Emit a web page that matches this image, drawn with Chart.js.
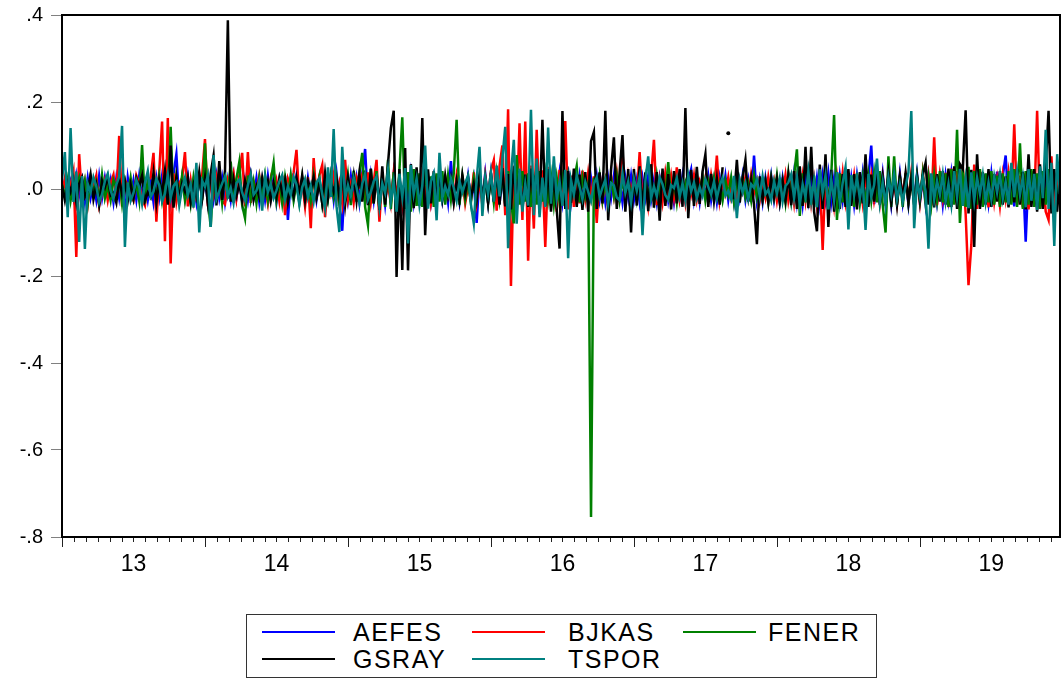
<!DOCTYPE html>
<html>
<head>
<meta charset="utf-8">
<script src="https://cdn.jsdelivr.net/npm/chart.js@4.4.1/dist/chart.umd.min.js"></script>
<style>
  html, body { margin: 0; padding: 0; background: #fff; }
  #wrap { position: relative; width: 1064px; height: 682px; }
  #legend { position: absolute; left: 246px; top: 614px; width: 631px; height: 64px;
            border: 1px solid #333; box-sizing: border-box; background: #fff; }
  .item { position: absolute; height: 28px; font-family: "Liberation Sans", Arial, sans-serif;
          font-size: 25px; letter-spacing: 1.5px; color: #000; line-height: 28px; white-space: nowrap; }
  .swatch { position: absolute; top: 13px; width: 73px; height: 2px; }
  .lbl { position: absolute; top: 0; }
</style>
</head>
<body>
<div id="wrap">
  <canvas id="c" width="1064" height="682"></canvas>
  <div id="legend"></div>
</div>
<script>
// ---- data (returns, roughly weekly samples) ----
const firstYear = 2013;
const obsPerYear = 50;
const seriesNames = ['AEFES', 'BJKAS', 'FENER', 'GSRAY', 'TSPOR'];
const seriesColors = ['#0000FF', '#FF0000', '#008000', '#000000', '#008080'];
const xTickLabels = ['13', '14', '15', '16', '17', '18', '19'];
const yTickValues = [-0.8, -0.6, -0.4, -0.2, 0, 0.2, 0.4];
const yTickLabels = ['-.8', '-.6', '-.4', '-.2', '.0', '.2', '.4'];

const aefes = [
-.01,.02,-.025,.015,-.02,.03,-.015,.02,-.03,.025,-.02,.015,-.025,.03,-.02,.025,-.015,.02,-.03,.025,-.02,.03,-.07,.025,-.02,
.02,-.025,.03,-.02,.015,-.025,.02,-.03,.025,-.02,.03,-.025,.02,-.03,.035,.08,-.03,.025,-.02,.03,-.025,.02,-.03,.025,-.02,
.025,-.03,.02,-.025,.03,-.02,.025,-.03,.02,-.025,.03,-.02,.025,-.03,.02,-.025,.03,-.02,.025,-.03,.02,-.025,.03,-.02,.025,
-.03,.02,-.025,.03,-.071,.025,-.02,.03,-.025,.02,-.03,.025,-.02,.03,-.025,.02,-.03,.025,-.02,.03,-.025,.035,-.03,-.096,.03,
-.025,.03,-.02,.025,-.03,.035,.092,-.035,.03,-.025,.035,-.03,.025,-.035,.03,-.025,.035,-.03,.025,-.035,.03,-.025,.035,-.03,.025,
-.02,.03,-.025,.02,-.03,.025,-.02,.03,-.025,.02,-.03,.064,-.025,.02,-.03,.025,-.02,.03,-.025,.02,-.078,.03,-.025,.035,-.03,
.035,-.03,.04,-.035,.03,-.04,.035,-.03,.04,-.035,.03,-.04,.035,-.03,.04,-.035,.03,-.04,.035,-.03,.04,-.035,.03,-.025,.035,
-.03,.025,.041,-.03,.025,-.02,.03,-.025,.02,-.03,.025,-.02,.03,-.025,.02,-.03,.025,-.02,.03,-.025,.02,-.03,.025,-.02,.03,
-.025,.02,-.03,.025,-.02,.03,-.025,.02,-.03,.025,-.02,.03,-.025,.02,-.03,.025,-.02,.03,-.025,.02,.045,-.025,.02,-.03,.025,
-.02,.03,-.025,.02,-.03,.025,-.02,.03,-.025,.02,-.03,.025,-.02,.03,-.025,.02,-.03,.077,-.025,.02,-.03,.025,-.02,.03,-.025,
.02,-.03,.025,-.02,.03,-.025,.035,-.03,.025,-.035,.03,-.025,.035,-.03,.025,-.035,.03,-.025,.035,-.03,.025,-.035,.03,-.025,.035,
-.03,.025,-.035,.03,-.025,.035,-.03,.025,.1,-.035,.03,-.025,.035,-.03,.025,-.035,.03,-.025,.035,-.03,.025,-.035,.03,-.025,.035,
-.03,.025,-.035,.03,-.025,.035,-.03,.025,-.035,.03,-.025,.035,-.03,.04,-.035,.03,-.04,.035,-.03,.04,-.035,.03,-.04,.035,-.03,
.035,-.03,.04,-.035,.03,.077,-.035,.03,-.04,.035,-.03,.04,-.121,.035,-.03,.04,-.035,.03,-.04,.035,-.03,.04,-.035,.03,-.025
];

const bjkas = [
-.014,.024,-.031,.009,.04,-.156,.08,-.021,.016,-.035,.027,.004,.031,-.038,-.011,.019,-.026,.013,.033,-.022,.122,-.04,.021,.008,-.017,
-.027,.031,.012,-.024,-.038,.018,.027,.083,-.075,.04,.155,-.12,.163,-.171,.036,-.029,.014,.024,.085,-.04,.019,-.033,-.009,.026,.031,
.115,-.04,.022,-.013,.031,.006,-.028,-.035,.024,.011,.037,-.021,.029,.083,-.04,.085,-.032,.017,-.006,.029,-.024,.009,-.033,.021,-.014,
.019,-.027,.031,-.06,.024,.006,.038,.09,-.031,.016,-.04,.027,-.09,.071,-.022,.031,.055,-.065,.024,-.009,.032,-.026,.013,-.033,.067,
-.024,.012,-.031,.027,.008,.033,-.026,.038,-.031,.017,.067,-.075,.031,-.022,.011,-.033,.038,-.016,.029,-.037,.021,.007,.036,-.026,.014,
-.027,.031,-.012,.024,-.033,.009,-.021,.032,.004,.027,-.014,.018,-.028,.031,-.011,.024,-.033,.006,-.026,.038,-.031,.021,-.037,.031,-.019,
.042,.066,-.05,.052,.1,-.06,.183,-.223,.054,-.041,.151,-.071,.155,-.165,.054,-.091,.136,-.056,.043,-.133,.051,-.039,.036,-.052,.044,
-.038,.156,-.047,.031,-.041,.026,-.033,.042,-.021,.036,-.018,.029,-.078,.036,-.027,.017,-.038,.031,-.016,.037,-.029,.087,-.036,.029,-.014,
.031,-.022,.085,-.031,.018,-.038,.029,.113,-.037,.021,-.029,.036,-.013,.031,-.019,.05,-.024,.013,-.032,.024,-.011,.031,-.024,.016,-.009,
.026,-.017,.032,-.008,.077,-.026,.017,-.011,.027,-.019,.009,-.027,.021,-.006,.027,-.019,.033,-.009,.018,-.027,.011,-.02,.028,-.012,.019,
-.027,.018,-.011,.032,-.026,.016,-.033,.027,-.014,.032,-.026,.037,-.031,.022,-.038,.031,-.14,.036,-.029,.021,-.038,.031,-.022,.037,-.029,
.024,-.013,.032,-.026,.016,-.033,.027,-.014,.031,-.026,.013,-.033,.026,-.038,.031,-.022,.016,-.033,.027,-.013,.032,-.026,.037,-.031,.022,
-.031,.037,-.022,.031,-.038,.119,-.037,.031,-.021,.037,-.042,.047,-.033,.041,-.047,.052,-.057,-.221,-.128,.056,-.046,.041,-.034,.029,-.042,
.037,-.029,.022,-.038,.031,-.022,.037,-.029,.149,-.036,.031,-.042,.036,-.047,.041,-.034,.18,-.046,.041,-.052,-.071,.075,-.046,.039,-.033
];

const fener = [
.011,-.016,.022,-.027,.014,.006,.026,-.018,.019,-.033,.027,-.009,.016,-.028,.032,-.021,.008,-.026,.021,.004,.027,-.033,.019,-.012,.026,
-.021,.014,-.027,.101,-.033,.019,-.012,.027,-.021,.031,-.026,.017,-.032,.143,-.038,.026,-.017,.031,-.026,.019,-.033,.027,-.014,.031,-.026,
.105,-.024,-.087,.031,-.017,.027,-.032,.037,-.022,.063,-.031,.024,.062,-.037,-.067,.031,-.024,.017,-.033,.026,-.017,.031,-.026,.019,.06,
-.026,.019,-.032,.027,-.017,.031,-.026,.014,-.032,.026,-.019,.012,-.027,.031,-.017,.026,-.033,.019,-.024,.031,-.017,.027,-.033,.036,-.024,
.031,-.037,.042,-.029,.036,.083,-.041,-.083,.046,-.033,.041,-.047,.033,-.041,.067,-.046,.039,-.052,.044,.165,-.046,.039,-.052,.046,-.039,
.036,-.041,.046,-.033,.029,-.041,.036,-.029,.041,-.036,.031,-.024,.036,.159,-.036,.029,-.024,.018,-.031,.026,-.017,.031,-.026,.019,-.031,
.026,-.031,.036,-.024,.031,-.036,.041,-.029,-.079,.078,-.036,.041,-.029,.036,-.041,.031,-.036,.041,-.029,.036,-.024,.031,-.036,.026,-.031,
.026,-.018,.031,-.026,.019,.053,-.031,.026,-.018,.012,-.754,.026,-.019,.031,-.026,.018,-.031,.026,-.017,.031,-.026,.019,-.013,.026,-.019,
.014,-.026,.019,-.031,.026,-.018,.013,-.026,.031,-.019,.026,-.013,.062,-.026,.019,-.031,.026,-.018,.013,-.026,.019,-.013,.026,-.019,.031,
-.026,.019,-.013,.026,-.019,.013,-.026,.019,-.013,.026,-.031,.019,-.013,.026,-.019,.013,-.026,.031,-.019,.013,-.026,.019,-.031,.026,-.019,
.031,-.026,.019,-.031,.036,-.026,.031,.091,-.062,.036,-.031,.041,-.036,.031,-.041,.036,-.031,.041,-.036,.031,.17,-.071,.036,-.031,.041,
-.036,.031,-.041,.036,-.031,.026,-.036,.031,-.026,.036,-.031,.041,-.036,-.1,.075,-.041,.075,-.036,.031,-.041,.036,-.031,.026,-.036,.031,
-.026,.036,-.031,.026,-.036,.031,-.026,.041,-.031,.036,-.041,.046,-.036,.136,-.078,.046,-.041,.051,-.046,.041,-.036,.046,-.041,.036,-.031,
.041,-.036,.031,-.041,.036,-.031,.041,-.036,.046,-.041,.105,-.046,.041,-.036,.046,-.041,.036,-.046,.041,-.036,.046,-.041,.036,-.031,.026
];

const gsray = [
.008,-.026,.014,-.006,.022,-.031,.012,.027,-.018,-.004,.033,-.024,.009,-.037,.019,.003,.028,-.015,-.009,-.032,.024,-.012,.017,-.028,.011,
-.021,.025,.006,.031,-.027,-.008,-.019,.037,-.033,.021,-.011,.042,-.036,.1,-.043,.029,-.022,.013,-.006,.026,-.031,.009,-.018,.038,-.024,
.027,-.032,.036,.077,-.038,.064,-.025,.041,.388,-.029,.022,-.016,.011,-.027,.019,-.008,.031,-.024,.006,-.019,.026,-.012,.018,-.027,.013,
-.018,.024,-.009,.021,-.031,.007,-.017,.026,-.011,.032,-.026,.019,-.004,.027,-.021,.012,-.033,.036,-.022,.015,-.007,.025,-.019,.031,-.037,
.026,-.014,.031,-.027,.036,-.029,.042,-.037,.047,-.033,.031,-.048,.052,-.036,.058,.14,.18,-.202,.046,-.186,.094,-.187,.057,-.044,.05,
-.039,.163,-.106,.045,-.033,.041,-.026,.036,-.022,.031,-.015,.024,-.031,.018,-.026,.032,-.011,.026,-.019,.012,-.027,.031,-.016,.025,-.032,
.037,-.028,.042,-.036,.048,-.04,.034,-.047,.052,-.031,.041,-.046,.033,-.041,.047,-.032,.058,-.046,.159,-.039,.046,-.052,.038,-.047,-.137,
.179,-.046,.041,-.032,.047,-.041,.033,-.048,.039,-.052,.11,.131,-.046,.038,-.033,.18,-.072,.044,.119,-.046,.039,.124,-.052,.046,-.1,
.046,-.038,.052,-.046,.038,-.051,.057,-.043,.039,-.073,.047,-.039,.034,-.047,.041,-.033,.046,-.041,.186,-.067,.044,-.039,.051,-.034,.04,
.08,-.041,.035,-.028,.024,-.036,.05,null,.128,null,-.024,.067,-.031,.024,.067,-.029,.022,-.036,-.127,.029,-.024,.018,-.031,.024,-.018,
.024,-.031,.018,-.026,.032,-.037,.041,-.046,.052,-.039,.097,-.044,.097,-.052,-.097,.056,-.046,.08,-.087,.044,-.052,.039,-.046,.034,-.041,
.046,-.039,.034,-.047,.039,-.033,.08,-.041,.033,-.029,.041,-.036,.028,-.024,.036,-.031,.024,-.037,.029,-.024,.036,-.031,.023,-.036,.029,
-.024,.031,.06,-.036,.029,-.042,.034,-.029,.041,-.036,.047,-.041,.052,-.046,.057,.046,.181,-.056,.044,-.133,.08,-.046,.039,-.036,.046,
-.041,.034,-.029,.041,-.036,.029,-.042,.034,-.031,.046,-.036,.039,-.047,.08,-.041,.046,-.052,.057,-.046,.051,.18,-.056,.046,-.052,.034
];

const tspor = [
.02,.085,-.065,.14,-.03,.04,-.122,.03,-.138,.012,-.008,.027,.006,-.031,-.012,.018,.035,-.004,-.022,.01,.028,.145,-.133,.015,-.027,
-.009,.021,.004,-.034,.013,.041,-.018,-.006,.024,.009,-.029,-.011,.033,-.02,.007,.016,-.038,.002,.026,-.014,.011,-.043,.06,-.1,.019,
.005,.031,-.087,.078,-.024,-.005,.013,.029,-.017,.003,-.032,.014,.022,-.008,-.026,.009,.034,-.013,-.004,.019,-.05,.028,-.007,.012,-.021,
-.003,.017,.032,-.025,.006,-.014,.028,.01,-.036,.004,.023,-.019,.008,-.029,.015,.025,-.011,-.045,.05,-.018,.138,-.04,-.099,.097,-.022,
.009,-.016,.027,.004,-.031,.012,.036,-.024,-.007,.018,.029,-.041,.013,-.009,.044,-.028,.016,-.052,.035,-.019,.048,-.125,.055,-.012,.024,
-.037,.008,.1,-.045,.017,.036,-.072,.083,-.021,.006,-.013,.025,.003,-.027,.019,-.008,.014,.031,-.035,-.079,.022,.097,-.062,.028,-.011,
.038,-.029,.054,-.017,.07,.143,-.136,.033,.113,-.08,.047,-.052,.012,-.038,.182,-.06,.07,-.065,.026,-.041,.141,-.034,.075,-.022,.018,
-.039,.044,-.159,.021,-.013,.031,.005,-.024,.016,-.006,-.028,.012,.027,-.018,.003,.021,-.033,.014,.008,-.019,-.026,.036,-.009,.017,-.031,
.024,-.004,.029,-.106,.018,.075,-.022,.006,-.017,.027,.011,-.014,-.025,.009,.002,.026,-.018,.013,-.027,.031,-.006,.015,-.021,.004,-.016,
.023,.005,-.012,.017,-.021,.008,.026,-.015,-.004,-.023,.03,-.067,.021,-.008,.014,-.024,.011,.003,.022,-.017,.029,-.012,-.002,-.026,.018,
-.011,.024,-.029,.007,.015,.034,-.021,.028,-.036,.011,-.019,.041,-.027,.02,-.042,.045,-.009,.031,-.047,.022,-.026,.039,-.033,.014,.05,
-.093,.032,-.014,.027,-.021,.018,-.094,.035,-.018,.009,.07,-.031,.016,-.037,.027,-.012,.033,-.024,.011,-.029,.006,.038,.179,-.09,.021,
-.017,.028,-.006,-.137,.036,-.024,.019,-.013,.034,-.029,.012,-.036,.041,-.018,.046,-.039,.023,-.044,.038,-.027,.026,-.011,.032,-.03,.015,
-.024,.029,-.008,.034,-.022,.017,-.036,.06,-.019,.041,-.013,.028,-.042,.046,-.027,.035,-.048,.052,-.021,.136,-.046,.06,-.131,.08,-.012
];

const seriesValues = [aefes, bjkas, fener, gsray, tspor];
// draw order: TSPOR on top, AEFES at the bottom
const drawOrder = [4, 3, 2, 1, 0];

const toPoints = arr => arr.map((v, i) => ({ x: firstYear + i / obsPerYear, y: v }));
const lastX = firstYear + (tspor.length - 1) / obsPerYear;

const datasets = seriesNames.map((name, k) => ({
  label: name,
  data: toPoints(seriesValues[k]),
  borderColor: seriesColors[k],
  backgroundColor: seriesColors[k],
  borderWidth: 2.5,
  tension: 0,
  spanGaps: false,
  order: drawOrder[k],
  pointBorderWidth: 0,
  pointHoverRadius: 0,
  pointRadius: ctx => {
    const d = ctx.dataset.data, i = ctx.dataIndex;
    const cur = d[i], prev = d[i - 1], next = d[i + 1];
    if (!cur || cur.y === null) return 0;
    const prevGap = !prev || prev.y === null;
    const nextGap = !next || next.y === null;
    return (prevGap && nextGap) ? 2 : 0;
  }
}));

const framePlugin = {
  id: 'frame',
  afterDraw(chart) {
    const { ctx, chartArea: a, scales: { x } } = chart;
    ctx.save();
    ctx.strokeStyle = '#222';
    ctx.lineWidth = 1;
    x.ticks.forEach(t => {
      const px = Math.round(x.getPixelForValue(t.value)) + 0.5;
      const len = t.yearStart ? 10 : 5;
      ctx.beginPath();
      ctx.moveTo(px, a.bottom);
      ctx.lineTo(px, a.bottom + len);
      ctx.stroke();
    });
    ctx.strokeStyle = '#000';
    ctx.lineWidth = 2;
    ctx.strokeRect(a.left, a.top, a.right - a.left, a.bottom - a.top);
    ctx.restore();
  }
};

new Chart(document.getElementById('c'), {
  type: 'line',
  data: { datasets },
  options: {
    responsive: false,
    devicePixelRatio: 1,
    animation: false,
    events: [],
    layout: { padding: { top: 15, right: 4, left: 0, bottom: 0 } },
    plugins: { legend: { display: false }, tooltip: { enabled: false } },
    scales: {
      x: {
        type: 'linear',
        min: firstYear,
        max: lastX,
        afterBuildTicks: scale => {
          const ticks = [];
          for (let m = 0; firstYear + m / 12 <= lastX + 1e-9; m++) {
            ticks.push({ value: firstYear + m / 12, yearStart: m % 12 === 0, month: m });
          }
          scale.ticks = ticks;
        },
        afterFit: scale => { scale.height = 145; scale.paddingLeft = 0; scale.paddingRight = 0; },
        grid: { display: false, drawTicks: false },
        border: { display: false },
        ticks: {
          autoSkip: false,
          maxRotation: 0,
          minRotation: 0,
          padding: 14,
          color: '#000',
          font: { family: '"Liberation Sans", Arial, sans-serif', size: 23 },
          callback: (value, index) => {
            const m = Math.round((value - firstYear) * 12);
            if (m % 12 !== 6) return '';
            return xTickLabels[Math.floor(m / 12)] || '';
          }
        }
      },
      y: {
        type: 'linear',
        min: -0.8,
        max: 0.4,
        afterBuildTicks: scale => { scale.ticks = yTickValues.map(v => ({ value: v })); },
        afterFit: scale => { scale.width = 62; scale.paddingTop = 0; scale.paddingBottom = 0; },
        grid: { drawOnChartArea: false, drawTicks: true, tickLength: 11, color: '#808080', lineWidth: 1 },
        border: { display: false },
        ticks: {
          padding: 8,
          color: '#000',
          font: { family: '"Liberation Sans", Arial, sans-serif', size: 20 },
          callback: (value, index) => yTickLabels[index]
        }
      }
    }
  },
  plugins: [framePlugin]
});

// ---- legend (two rows, three columns, inside a box) ----
const legendCols = [ { line: 15, text: 106 }, { line: 225, text: 321 }, { line: 436, text: 521 } ];
const legendRows = [ 3, 30 ];
const legendEl = document.getElementById('legend');
seriesNames.forEach((name, k) => {
  const col = legendCols[k % 3], row = legendRows[Math.floor(k / 3)];
  const item = document.createElement('div');
  item.className = 'item';
  item.style.left = '0px';
  item.style.top = row + 'px';
  const sw = document.createElement('div');
  sw.className = 'swatch';
  sw.style.left = col.line + 'px';
  sw.style.background = seriesColors[k];
  const lb = document.createElement('span');
  lb.className = 'lbl';
  lb.style.left = col.text + 'px';
  lb.textContent = name;
  item.appendChild(sw);
  item.appendChild(lb);
  legendEl.appendChild(item);
});
</script>
</body>
</html>
